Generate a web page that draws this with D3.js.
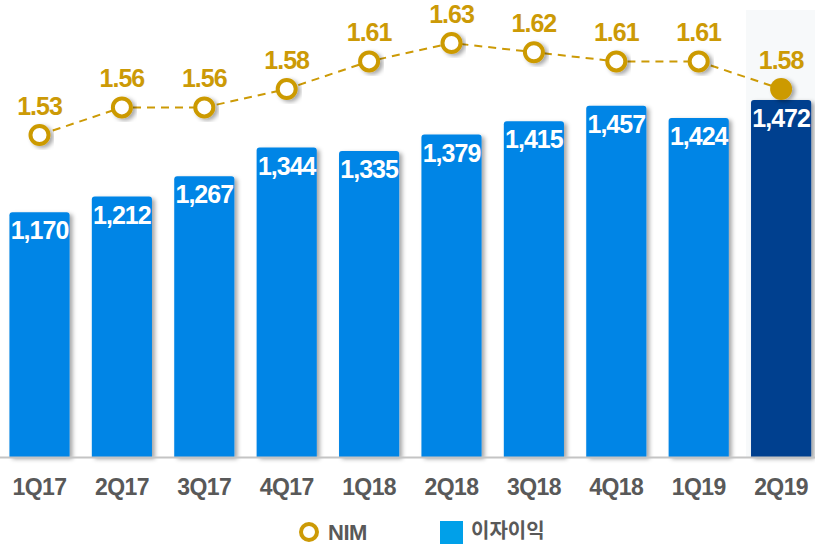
<!DOCTYPE html>
<html><head><meta charset="utf-8">
<script src="https://cdn.jsdelivr.net/npm/d3@7/dist/d3.min.js"></script>
<style>body{margin:0;background:#fff}svg{display:block}</style>
</head><body><svg id="c" width="815" height="545"></svg>
<script>
const categories = ["1Q17","2Q17","3Q17","4Q17","1Q18","2Q18","3Q18","4Q18","1Q19","2Q19"];
const interestIncome = [1170,1212,1267,1344,1335,1379,1415,1457,1424,1472];
const nim = [1.53,1.56,1.56,1.58,1.61,1.63,1.62,1.61,1.61,1.58];
const legendLabels = ["NIM","이자이익"];

const svg = d3.select("#c");
const W = 815, base = 457;
const gold = "#CC9A06", barBlue = "#0085E6", darkBlue = "#003F8F", grey = "#595959";
const font = "'Liberation Sans', Arial, sans-serif";

const defs = svg.append("defs");
const f = defs.append("filter").attr("id","sh").attr("x","-20%").attr("y","-20%").attr("width","150%").attr("height","150%");
f.append("feDropShadow").attr("dx",3).attr("dy",2).attr("stdDeviation",2).attr("flood-color","#000").attr("flood-opacity",0.35);

const x = d3.scaleBand().domain(categories).range([-1.7, 822.3]).paddingInner(0.27).paddingOuter(0.135);
const y = d3.scaleLinear().domain([510, 1500]).range([base, 89.7]);
const y2 = d3.scaleLinear().domain([1.53, 1.63]).range([135, 43]);

// highlight background for last column
const last = categories[categories.length-1];
svg.append("rect").attr("x", x(last) - 5).attr("y", 10).attr("width", W - (x(last) - 5)).attr("height", base - 10).attr("fill", "#f7f9fa");

// bars
svg.append("g").selectAll("path").data(categories).join("path")
  .attr("d", (d,i) => {
    const x0 = x(d), w = x.bandwidth(), t = y(interestIncome[i]), r = 3;
    return `M${x0},${base}V${t+r}Q${x0},${t} ${x0+r},${t}H${x0+w-r}Q${x0+w},${t} ${x0+w},${t+r}V${base}Z`;
  })
  .attr("fill", (d,i) => i === categories.length-1 ? darkBlue : barBlue)
  .attr("filter","url(#sh)");

// axis line
svg.append("line").attr("x1",0).attr("x2",W).attr("y1",base+0.5).attr("y2",base+0.5).attr("stroke","#c4c4c4").attr("stroke-width",2);

// bar labels
svg.append("g").selectAll("text").data(categories).join("text")
  .attr("x", d => x(d) + x.bandwidth()/2)
  .attr("y", (d,i) => y(interestIncome[i]) + 27)
  .attr("text-anchor","middle")
  .attr("font-family", font).attr("font-weight","bold").attr("font-size",25).attr("letter-spacing",-1)
  .attr("fill","#fff")
  .text((d,i) => d3.format(",")(interestIncome[i]));

// x axis labels
svg.append("g").selectAll("text").data(categories).join("text")
  .attr("x", d => x(d) + x.bandwidth()/2)
  .attr("y", 495)
  .attr("text-anchor","middle")
  .attr("font-family", font).attr("font-weight","bold").attr("font-size",23).attr("letter-spacing",-0.6)
  .attr("fill",grey)
  .text(d => d);

// NIM line
const cx = d => x(d) + x.bandwidth()/2;
const line = d3.line().x((d,i) => cx(categories[i])).y(d => y2(d));
svg.append("path").datum(nim).attr("d", line).attr("fill","none").attr("stroke",gold).attr("stroke-width",2).attr("stroke-dasharray","8,6");

svg.append("g").selectAll("circle").data(nim).join("circle")
  .attr("cx", (d,i) => cx(categories[i]))
  .attr("cy", d => y2(d))
  .attr("r", (d,i) => i === nim.length-1 ? 11 : 9)
  .attr("fill", (d,i) => i === nim.length-1 ? gold : "#fff")
  .attr("stroke", gold).attr("stroke-width", (d,i) => i === nim.length-1 ? 0 : 4)
  .attr("filter","url(#sh)");

svg.append("g").selectAll("text").data(nim).join("text")
  .attr("x", (d,i) => cx(categories[i]))
  .attr("y", d => y2(d) - 20)
  .attr("text-anchor","middle")
  .attr("font-family", font).attr("font-weight","bold").attr("font-size",25).attr("letter-spacing",-1)
  .attr("fill",gold)
  .text(d => d3.format(".2f")(d));

// legend
const lg = svg.append("g");
lg.append("circle").attr("cx",309).attr("cy",532).attr("r",8).attr("fill","#fff").attr("stroke",gold).attr("stroke-width",4);
lg.append("text").attr("x",328).attr("y",540).attr("font-family",font).attr("font-weight","bold").attr("font-size",22).attr("letter-spacing",-0.5).attr("fill",grey).text(legendLabels[0]);
lg.append("rect").attr("x",440).attr("y",521).attr("width",23).attr("height",23).attr("fill","#00A0E9");
lg.append("text").attr("x",471).attr("y",538).attr("font-family","'Noto Sans CJK KR', sans-serif").attr("font-weight","bold").attr("font-size",20).attr("fill",grey).text(legendLabels[1]);
</script></body></html>
